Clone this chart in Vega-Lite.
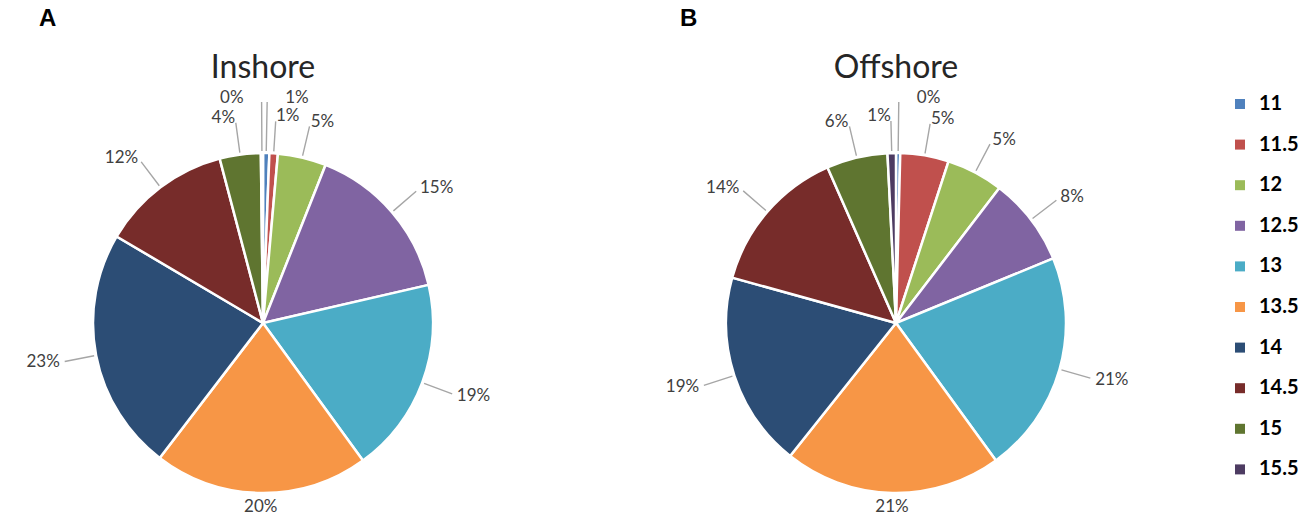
{
  "$schema": "https://vega.github.io/schema/vega-lite/v6.json",
  "padding": {"left": 0, "top": 7, "right": 0, "bottom": 0},
  "spacing": 107,
  "config": {"view": {"stroke": null}},
  "data": {
    "values": [
      {"Site": "Inshore", "Size": 11, "Share": 0.006},
      {"Site": "Inshore", "Size": 11.5, "Share": 0.008},
      {"Site": "Inshore", "Size": 12, "Share": 0.046},
      {"Site": "Inshore", "Size": 12.5, "Share": 0.154},
      {"Site": "Inshore", "Size": 13, "Share": 0.186},
      {"Site": "Inshore", "Size": 13.5, "Share": 0.204},
      {"Site": "Inshore", "Size": 14, "Share": 0.231},
      {"Site": "Inshore", "Size": 14.5, "Share": 0.124},
      {"Site": "Inshore", "Size": 15, "Share": 0.039},
      {"Site": "Inshore", "Size": 15.5, "Share": 0.002},
      {"Site": "Offshore", "Size": 11, "Share": 0.004},
      {"Site": "Offshore", "Size": 11.5, "Share": 0.046},
      {"Site": "Offshore", "Size": 12, "Share": 0.054},
      {"Site": "Offshore", "Size": 12.5, "Share": 0.084},
      {"Site": "Offshore", "Size": 13, "Share": 0.212},
      {"Site": "Offshore", "Size": 13.5, "Share": 0.207},
      {"Site": "Offshore", "Size": 14, "Share": 0.186},
      {"Site": "Offshore", "Size": 14.5, "Share": 0.141},
      {"Site": "Offshore", "Size": 15, "Share": 0.058},
      {"Site": "Offshore", "Size": 15.5, "Share": 0.008}
    ]
  },
  "hconcat": [
    {
      "title": {"text": "A", "anchor": "start", "frame": "group", "dx": 39, "offset": 21, "fontSize": 24, "font": "Liberation Sans", "fontWeight": "bold", "color": "#000000"},
      "vconcat": [
        {
          "width": 526,
          "height": 380,
          "title": {"text": "Inshore", "fontSize": 32, "font": "Lato", "fontWeight": "normal", "color": "#262626", "offset": 4},
          "transform": [{"filter": "datum.Site === 'Inshore'"}],
          "encoding": {
            "theta": {"field": "Share", "type": "quantitative", "stack": true},
            "order": {"field": "Size", "type": "quantitative"},
            "detail": {"field": "Size", "type": "nominal"}
          },
          "layer": [
            {
              "mark": {"type": "arc", "outerRadius": 170, "stroke": "#ffffff", "strokeWidth": 2.5},
              "encoding": {
                "color": {"field": "Size", "type": "nominal",
                  "scale": {"domain": [11, 11.5, 12, 12.5, 13, 13.5, 14, 14.5, 15, 15.5],
                    "range": ["#4F81BD", "#C0504D", "#9BBB59", "#8064A2", "#4BACC6", "#F79646", "#2C4D75", "#772C2A", "#5F7530", "#4D3B62"]},
                  "legend": {"orient": "none", "legendX": 1230, "legendY": -39, "title": null, "symbolType": "square", "symbolSize": 100, "symbolStrokeWidth": 0, "labelFont": "Lato", "labelFontSize": 20, "labelFontWeight": "bold", "labelColor": "#000000", "rowPadding": 20.6, "labelOffset": 9}
                }
              }
            },
            {
              "mark": {"type": "arc", "filled": false, "padAngle": 3, "innerRadius": 172, "outerRadius": 202, "stroke": "#A6A6A6", "strokeWidth": 1.4},
              "encoding": {"opacity": {"condition": {"test": "datum.Share >= 0.007 && datum.Size != 13.5", "value": 1}, "value": 0}}
            },
            {
              "mark": {"type": "arc", "filled": false, "padAngle": 3, "innerRadius": 172, "outerRadius": 221, "stroke": "#A6A6A6", "strokeWidth": 1.4},
              "encoding": {"opacity": {"condition": {"test": "datum.Share < 0.007", "value": 1}, "value": 0}}
            },
            {
              "mark": {"type": "text", "radius": 207, "align": "left", "baseline": "middle", "font": "Lato", "fontSize": 17, "color": "#404040"},
              "encoding": {"text": {"condition": {"test": "datum.Size <= 13 && datum.Share >= 0.007", "field": "Share", "type": "quantitative", "format": ".0%"}, "value": ""}}
            },
            {
              "mark": {"type": "text", "radius": 225, "dx": 18, "align": "left", "baseline": "middle", "font": "Lato", "fontSize": 17, "color": "#404040"},
              "encoding": {"text": {"condition": {"test": "datum.Size <= 13 && datum.Share < 0.007", "field": "Share", "type": "quantitative", "format": ".0%"}, "value": ""}}
            },
            {
              "mark": {"type": "text", "radius": 207, "align": "right", "baseline": "middle", "font": "Lato", "fontSize": 17, "color": "#404040"},
              "encoding": {"text": {"condition": {"test": "datum.Size >= 14 && datum.Share >= 0.007", "field": "Share", "type": "quantitative", "format": ".0%"}, "value": ""}}
            },
            {
              "mark": {"type": "text", "radius": 225, "dx": -18, "align": "right", "baseline": "middle", "font": "Lato", "fontSize": 17, "color": "#404040"},
              "encoding": {"text": {"condition": {"test": "datum.Size >= 14 && datum.Share < 0.007", "field": "Share", "type": "quantitative", "format": ".0%"}, "value": ""}}
            },
            {
              "mark": {"type": "text", "radius": 184, "align": "center", "baseline": "middle", "font": "Lato", "fontSize": 17, "color": "#404040"},
              "encoding": {"text": {"condition": {"test": "datum.Size == 13.5", "field": "Share", "type": "quantitative", "format": ".0%"}, "value": ""}}
            }
          ]
        }
      ]
    },
    {
      "title": {"text": "B", "anchor": "start", "frame": "group", "dx": 47, "offset": 21, "fontSize": 24, "font": "Liberation Sans", "fontWeight": "bold", "color": "#000000"},
      "vconcat": [
        {
          "width": 526,
          "height": 380,
          "title": {"text": "Offshore", "fontSize": 32, "font": "Lato", "fontWeight": "normal", "color": "#262626", "offset": 4},
          "transform": [{"filter": "datum.Site === 'Offshore'"}],
          "encoding": {
            "theta": {"field": "Share", "type": "quantitative", "stack": true},
            "order": {"field": "Size", "type": "quantitative"},
            "detail": {"field": "Size", "type": "nominal"}
          },
          "layer": [
            {
              "mark": {"type": "arc", "outerRadius": 170, "stroke": "#ffffff", "strokeWidth": 2.5},
              "encoding": {
                "color": {"field": "Size", "type": "nominal"}
              }
            },
            {
              "mark": {"type": "arc", "filled": false, "padAngle": 3, "innerRadius": 172, "outerRadius": 202, "stroke": "#A6A6A6", "strokeWidth": 1.4},
              "encoding": {"opacity": {"condition": {"test": "datum.Share >= 0.007 && datum.Size != 13.5", "value": 1}, "value": 0}}
            },
            {
              "mark": {"type": "arc", "filled": false, "padAngle": 3, "innerRadius": 172, "outerRadius": 221, "stroke": "#A6A6A6", "strokeWidth": 1.4},
              "encoding": {"opacity": {"condition": {"test": "datum.Share < 0.007", "value": 1}, "value": 0}}
            },
            {
              "mark": {"type": "text", "radius": 207, "align": "left", "baseline": "middle", "font": "Lato", "fontSize": 17, "color": "#404040"},
              "encoding": {"text": {"condition": {"test": "datum.Size <= 13 && datum.Share >= 0.007", "field": "Share", "type": "quantitative", "format": ".0%"}, "value": ""}}
            },
            {
              "mark": {"type": "text", "radius": 225, "dx": 18, "align": "left", "baseline": "middle", "font": "Lato", "fontSize": 17, "color": "#404040"},
              "encoding": {"text": {"condition": {"test": "datum.Size <= 13 && datum.Share < 0.007", "field": "Share", "type": "quantitative", "format": ".0%"}, "value": ""}}
            },
            {
              "mark": {"type": "text", "radius": 207, "align": "right", "baseline": "middle", "font": "Lato", "fontSize": 17, "color": "#404040"},
              "encoding": {"text": {"condition": {"test": "datum.Size >= 14 && datum.Share >= 0.007", "field": "Share", "type": "quantitative", "format": ".0%"}, "value": ""}}
            },
            {
              "mark": {"type": "text", "radius": 225, "dx": -18, "align": "right", "baseline": "middle", "font": "Lato", "fontSize": 17, "color": "#404040"},
              "encoding": {"text": {"condition": {"test": "datum.Size >= 14 && datum.Share < 0.007", "field": "Share", "type": "quantitative", "format": ".0%"}, "value": ""}}
            },
            {
              "mark": {"type": "text", "radius": 184, "align": "center", "baseline": "middle", "font": "Lato", "fontSize": 17, "color": "#404040"},
              "encoding": {"text": {"condition": {"test": "datum.Size == 13.5", "field": "Share", "type": "quantitative", "format": ".0%"}, "value": ""}}
            }
          ]
        }
      ]
    }
  ]
}
